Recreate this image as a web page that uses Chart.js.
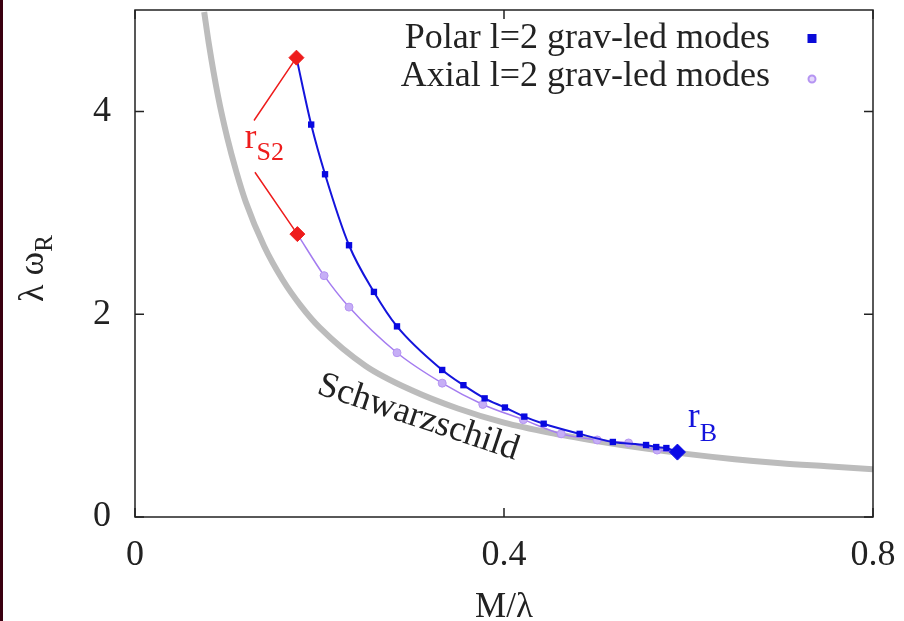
<!DOCTYPE html>
<html lang="en">
<head>
<meta charset="UTF-8">
<title>Polar and axial l=2 grav-led modes</title>
<script src="https://cdn.jsdelivr.net/npm/chart.js"></script>
<style>
  body {
    margin: 0;
    background: #ffffff;
    overflow: hidden;
  }
  #wrap {
    position: relative;
    width: 904px;
    height: 621px;
  }
  #edge {
    position: absolute;
    left: 0;
    top: 0;
    width: 3px;
    height: 621px;
    background: #3a0010;
  }
</style>
</head>
<body>
<div id="wrap">
  <canvas id="modes" width="904" height="621"></canvas>
  <div id="edge"></div>
</div>

<script>
  // values
  const schwX = [0.075, 0.08, 0.09, 0.10, 0.11, 0.12, 0.14, 0.16, 0.18, 0.20, 0.25, 0.30, 0.35, 0.40, 0.45, 0.50, 0.55, 0.60, 0.65, 0.70, 0.75, 0.80];
  const schwY = [4.98, 4.67, 4.15, 3.74, 3.40, 3.11, 2.67, 2.34, 2.08, 1.87, 1.49, 1.25, 1.07, 0.93, 0.83, 0.75, 0.68, 0.62, 0.57, 0.53, 0.50, 0.47];

  const polarX = [0.175, 0.191, 0.206, 0.232, 0.259, 0.284, 0.333, 0.356, 0.379, 0.401, 0.422, 0.443, 0.482, 0.518, 0.554, 0.565, 0.576, 0.588];
  const polarY = [4.53, 3.87, 3.38, 2.68, 2.22, 1.88, 1.45, 1.30, 1.17, 1.08, 0.99, 0.92, 0.82, 0.74, 0.71, 0.69, 0.68, 0.64];

  const axialX = [0.176, 0.205, 0.232, 0.284, 0.333, 0.377, 0.421, 0.462, 0.501, 0.535, 0.566, 0.588];
  const axialY = [2.79, 2.38, 2.07, 1.62, 1.32, 1.11, 0.96, 0.82, 0.76, 0.73, 0.66, 0.64];

  const rS2X = [0.175, 0.176];
  const rS2Y = [4.53, 2.79];
  const rBX = [0.588];
  const rBY = [0.64];

  // r_S2 label and its two pointer lines (data units)
  const rS2Label = [0.119, 3.64];
  const rS2LineStart = [[0.129, 3.91], [0.130, 3.40]];
  const rBLabel = [0.5995, 0.89];
  const schwLabel = [0.196, 1.22];

  const xTicks = [0, 0.4, 0.8];
  const yTicks = [0, 2, 4];

  const legendNames = ["Polar l=2 grav-led modes", "Axial l=2 grav-led modes"];

  const pts = (xs, ys) => xs.map((x, i) => ({ x: x, y: ys[i] }));

  const SERIF = "'Liberation Serif', 'DejaVu Serif', serif";
  const BLUE = "#1414dc";
  const PURPLE = "#a47cf0";
  const RED = "#ee1c1c";

  const noPad = scale => {
    scale.paddingTop = 0;
    scale.paddingBottom = 0;
    scale.paddingLeft = 0;
    scale.paddingRight = 0;
  };

  // frame, inward ticks, labels, legend
  const decorations = {
    id: "decorations",
    afterDraw(chart) {
      const ctx = chart.ctx;
      const a = chart.chartArea;
      const xs = chart.scales.x, ys = chart.scales.y;
      ctx.save();

      ctx.strokeStyle = "#222";
      ctx.lineWidth = 1.5;
      ctx.strokeRect(a.left, a.top, a.right - a.left, a.bottom - a.top);
      ctx.beginPath();
      xTicks.forEach(v => {
        const px = xs.getPixelForValue(v);
        ctx.moveTo(px, a.bottom); ctx.lineTo(px, a.bottom - 9);
        ctx.moveTo(px, a.top); ctx.lineTo(px, a.top + 9);
      });
      yTicks.forEach(v => {
        const py = ys.getPixelForValue(v);
        ctx.moveTo(a.left, py); ctx.lineTo(a.left + 9, py);
        ctx.moveTo(a.right, py); ctx.lineTo(a.right - 9, py);
      });
      ctx.stroke();

      // r_S2 pointers
      ctx.strokeStyle = RED;
      ctx.lineWidth = 1.5;
      ctx.beginPath();
      rS2LineStart.forEach((p, i) => {
        ctx.moveTo(xs.getPixelForValue(p[0]), ys.getPixelForValue(p[1]));
        ctx.lineTo(xs.getPixelForValue(rS2X[i]), ys.getPixelForValue(rS2Y[i]));
      });
      ctx.stroke();

      ctx.textBaseline = "alphabetic";
      ctx.textAlign = "left";
      let lx = xs.getPixelForValue(rS2Label[0]);
      let ly = ys.getPixelForValue(rS2Label[1]);
      ctx.fillStyle = RED;
      ctx.font = "35px " + SERIF;
      ctx.fillText("r", lx, ly);
      lx += ctx.measureText("r").width;
      ctx.font = "26px " + SERIF;
      ctx.fillText("S2", lx, ly + 12);

      lx = xs.getPixelForValue(rBLabel[0]);
      ly = ys.getPixelForValue(rBLabel[1]);
      ctx.fillStyle = BLUE;
      ctx.font = "35px " + SERIF;
      ctx.fillText("r", lx, ly);
      lx += ctx.measureText("r").width;
      ctx.font = "26px " + SERIF;
      ctx.fillText("B", lx, ly + 14);

      // Schwarzschild label
      ctx.save();
      ctx.translate(xs.getPixelForValue(schwLabel[0]), ys.getPixelForValue(schwLabel[1]));
      ctx.rotate(18.5 * Math.PI / 180);
      ctx.fillStyle = "#222";
      ctx.font = "36px " + SERIF;
      ctx.fillText("Schwarzschild", 0, 0);
      ctx.restore();

      // y axis title: lambda omega_R
      ctx.save();
      ctx.translate(43, 302);
      ctx.rotate(-Math.PI / 2);
      ctx.fillStyle = "#222";
      ctx.font = "36px " + SERIF;
      ctx.fillText("λ ω", 0, 0);
      const w = ctx.measureText("λ ω").width;
      ctx.font = "25px " + SERIF;
      ctx.fillText("R", w, 9);
      ctx.restore();

      // legend
      ctx.font = "36px " + SERIF;
      ctx.fillStyle = "#222";
      ctx.textAlign = "right";
      ctx.textBaseline = "middle";
      const tx = a.right - 103, mx = a.right - 61;
      ctx.fillText(legendNames[0], tx, a.top + 29);
      ctx.fillText(legendNames[1], tx, a.top + 67);
      ctx.fillStyle = "#0a0ad8";
      ctx.fillRect(mx - 4.5, a.top + 24, 9, 9);
      ctx.beginPath();
      ctx.arc(mx, a.top + 69, 3.5, 0, Math.PI * 2);
      ctx.fillStyle = "#e4d8fb";
      ctx.fill();
      ctx.strokeStyle = "#b594f2";
      ctx.lineWidth = 2;
      ctx.stroke();

      ctx.restore();
    }
  };

  new Chart(document.getElementById("modes"), {
    type: "scatter",
    data: {
      datasets: [
        {
          label: "rB",
          data: pts(rBX, rBY),
          pointStyle: "rectRot",
          pointRadius: 8,
          backgroundColor: "#0a0ae6",
          borderColor: "#0a0ae6",
          order: 0
        },
        {
          label: "rS2",
          data: pts(rS2X, rS2Y),
          pointStyle: "rectRot",
          pointRadius: 7.5,
          backgroundColor: RED,
          borderColor: RED,
          order: 1
        },
        {
          label: legendNames[0],
          data: pts(polarX, polarY),
          showLine: true,
          cubicInterpolationMode: "monotone",
          borderColor: BLUE,
          borderWidth: 2,
          pointStyle: "rect",
          pointRadius: 4.5,
          backgroundColor: "#0808e0",
          pointBorderWidth: 0,
          order: 2
        },
        {
          label: legendNames[1],
          data: pts(axialX, axialY),
          showLine: true,
          cubicInterpolationMode: "monotone",
          borderColor: PURPLE,
          borderWidth: 1.5,
          pointStyle: "circle",
          pointRadius: 4,
          backgroundColor: "#c6aef6",
          pointBorderColor: "#b594f2",
          pointBorderWidth: 1,
          order: 3
        },
        {
          label: "Schwarzschild",
          data: pts(schwX, schwY),
          showLine: true,
          cubicInterpolationMode: "monotone",
          borderColor: "#bcbcbc",
          borderWidth: 6,
          pointRadius: 0,
          order: 4
        }
      ]
    },
    options: {
      responsive: false,
      animation: false,
      layout: { padding: { top: 10, right: 31, left: 0, bottom: 0 } },
      plugins: {
        legend: { display: false },
        tooltip: { enabled: false }
      },
      scales: {
        x: {
          type: "linear",
          min: 0,
          max: 0.8,
          grid: { display: false, drawTicks: false },
          border: { display: false },
          ticks: {
            stepSize: 0.4,
            includeBounds: false,
            padding: 17,
            color: "#222",
            font: { family: SERIF, size: 36 }
          },
          title: {
            display: true,
            text: "M/λ",
            color: "#222",
            padding: 0,
            font: { family: SERIF, size: 35, lineHeight: 0.78 }
          },
          afterFit(scale) { scale.height = 104; noPad(scale); }
        },
        y: {
          type: "linear",
          min: 0,
          max: 5,
          grid: { display: false, drawTicks: false },
          border: { display: false },
          ticks: {
            stepSize: 2,
            includeBounds: false,
            padding: 24,
            color: "#222",
            font: { family: SERIF, size: 36 }
          },
          afterFit(scale) { scale.width = 135; noPad(scale); }
        }
      }
    },
    plugins: [decorations]
  });
</script>
</body>
</html>
